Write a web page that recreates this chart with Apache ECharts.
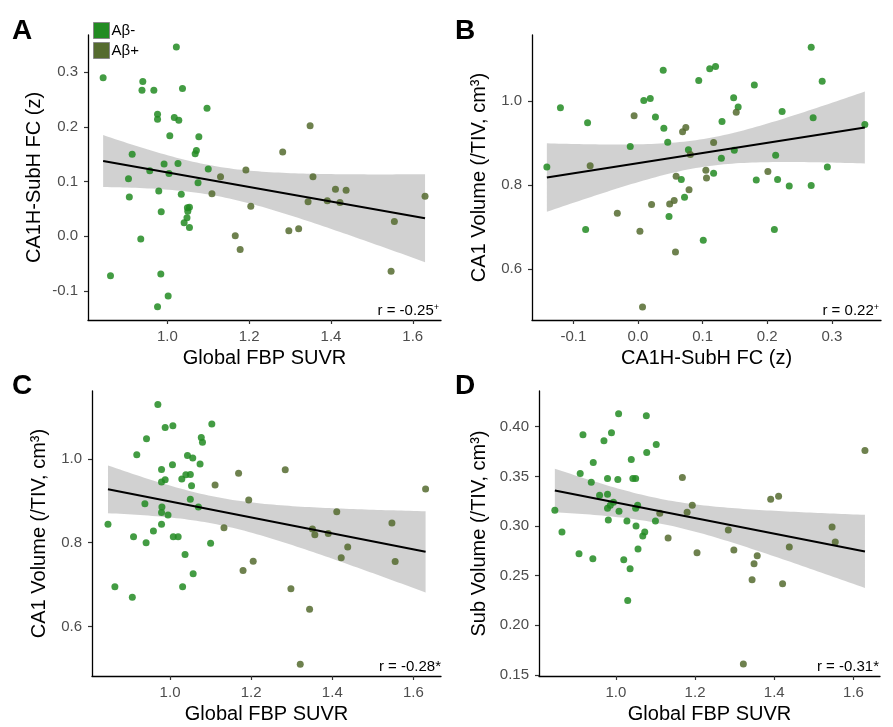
<!DOCTYPE html>
<html><head><meta charset="utf-8">
<script src="https://cdn.jsdelivr.net/npm/echarts@6/dist/echarts.min.js"></script>
<style>html,body{margin:0;padding:0;background:#fff}#c{width:893px;height:727px}</style>
</head><body><div id="c"></div>
<script>
const FONT = "'Liberation Sans', Arial, Helvetica, sans-serif";
const groupNames = ['Aβ-', 'Aβ+'];

// Panel A: x = Global FBP SUVR, y = CA1H-SubH FC (z)
const aNeg = [[1.022,0.346],[0.843,0.290],[0.940,0.283],[0.938,0.267],[0.967,0.267],[1.037,0.270],[0.976,0.223],[0.976,0.214],[1.017,0.217],[1.028,0.212],[1.097,0.234],[1.006,0.184],[1.077,0.182],[1.071,0.157],[1.068,0.151],[0.914,0.150],[0.992,0.132],[1.026,0.133],[0.957,0.120],[1.004,0.115],[1.100,0.123],[0.905,0.105],[1.075,0.098],[0.907,0.072],[0.979,0.083],[1.034,0.077],[1.049,0.052],[1.054,0.053],[1.050,0.046],[0.985,0.045],[1.048,0.034],[1.041,0.025],[1.054,0.016],[0.935,-0.005],[0.861,-0.072],[0.984,-0.069],[1.002,-0.109],[0.976,-0.129]];
const aPos = [[1.349,0.202],[1.282,0.154],[1.192,0.121],[1.130,0.109],[1.356,0.109],[1.109,0.078],[1.204,0.055],[1.411,0.086],[1.437,0.084],[1.344,0.063],[1.391,0.065],[1.422,0.062],[1.630,0.073],[1.555,0.027],[1.297,0.010],[1.321,0.014],[1.166,0.001],[1.178,-0.024],[1.547,-0.064]];

// Panel B: x = CA1H-SubH FC (z), y = CA1 Volume
const bNeg = [[0.268,1.128],[0.285,1.047],[0.271,0.960],[0.351,0.944],[0.293,0.843],[0.268,0.799],[0.039,1.073],[0.094,1.049],[0.111,1.077],[0.120,1.082],[0.180,1.038],[0.009,1.001],[0.019,1.006],[-0.120,0.984],[-0.078,0.948],[0.027,0.962],[0.040,0.935],[0.046,0.902],[-0.012,0.892],[0.148,1.008],[0.155,0.986],[0.130,0.951],[0.223,0.975],[0.149,0.883],[0.129,0.864],[0.078,0.884],[0.213,0.871],[-0.141,0.843],[0.067,0.813],[0.117,0.828],[0.183,0.812],[0.216,0.813],[0.234,0.798],[0.072,0.771],[0.048,0.725],[-0.081,0.694],[0.211,0.694],[0.101,0.669]];
const bPos = [[-0.006,0.965],[0.152,0.973],[0.069,0.927],[0.074,0.937],[0.117,0.901],[0.081,0.873],[-0.074,0.846],[0.059,0.821],[0.105,0.835],[0.106,0.817],[0.201,0.832],[0.079,0.789],[0.021,0.754],[0.049,0.755],[0.056,0.763],[-0.032,0.733],[0.003,0.690],[0.058,0.641],[0.007,0.510]];

// Panel C: x = Global FBP SUVR, y = CA1 Volume
const cNeg = [[0.970,1.130],[0.988,1.075],[1.007,1.079],[1.103,1.083],[0.942,1.048],[1.077,1.051],[1.080,1.040],[0.918,1.010],[1.043,1.008],[1.056,1.002],[1.006,0.986],[1.074,0.988],[0.979,0.975],[1.029,0.952],[1.039,0.962],[1.050,0.963],[0.988,0.950],[0.979,0.945],[1.053,0.936],[1.050,0.904],[0.938,0.893],[1.070,0.885],[0.980,0.885],[0.979,0.872],[0.995,0.866],[0.847,0.844],[0.979,0.844],[0.959,0.828],[0.910,0.814],[0.941,0.800],[1.008,0.814],[1.020,0.814],[1.100,0.799],[1.037,0.772],[1.057,0.726],[0.864,0.695],[1.031,0.695],[0.907,0.670]];
const cPos = [[1.169,0.966],[1.284,0.974],[1.111,0.938],[1.194,0.902],[1.630,0.928],[1.411,0.874],[1.133,0.836],[1.351,0.833],[1.357,0.819],[1.390,0.822],[1.547,0.847],[1.438,0.790],[1.422,0.764],[1.555,0.755],[1.205,0.756],[1.180,0.734],[1.298,0.690],[1.344,0.641],[1.321,0.510]];

// Panel D: x = Global FBP SUVR, y = Sub Volume
const dNeg = [[1.007,0.413],[1.077,0.411],[0.917,0.392],[0.989,0.394],[0.970,0.386],[1.102,0.382],[1.078,0.374],[0.943,0.364],[1.039,0.367],[0.910,0.353],[0.979,0.348],[1.005,0.347],[1.043,0.348],[1.050,0.348],[0.938,0.344],[0.959,0.331],[0.979,0.332],[0.979,0.318],[0.846,0.316],[0.994,0.324],[0.986,0.321],[1.055,0.321],[1.050,0.318],[1.008,0.315],[0.981,0.306],[1.028,0.305],[1.100,0.305],[1.051,0.300],[0.864,0.294],[1.073,0.294],[1.068,0.290],[1.056,0.277],[0.907,0.272],[0.942,0.267],[1.020,0.266],[1.036,0.257],[1.030,0.225]];
const dPos = [[1.629,0.376],[1.168,0.349],[1.391,0.327],[1.411,0.330],[1.193,0.321],[1.180,0.314],[1.111,0.313],[1.132,0.288],[1.284,0.296],[1.546,0.299],[1.554,0.284],[1.205,0.273],[1.298,0.276],[1.438,0.279],[1.357,0.270],[1.349,0.262],[1.344,0.246],[1.421,0.242],[1.322,0.161]];

// Tick values
const suvrTicks = [1.0, 1.2, 1.4, 1.6];
const fcTicksY = [-0.1, 0.0, 0.1, 0.2, 0.3];
const fcTicksX = [-0.1, 0.0, 0.1, 0.2, 0.3];
const ca1Ticks = [0.6, 0.8, 1.0];
const subTicks = [0.15, 0.20, 0.25, 0.30, 0.35, 0.40];

const panelLetters = ['A', 'B', 'C', 'D'];
const rLabels = ['r = -0.25', 'r = 0.22', 'r = -0.28*', 'r = -0.31*'];
const rSup = ['+', '+', '', ''];
const xTitles = ['Global FBP SUVR', 'CA1H-SubH FC (z)', 'Global FBP SUVR', 'Global FBP SUVR'];
const yTitles = ['CA1H-SubH FC (z)', 'CA1 Volume (/TIV, cm³)', 'CA1 Volume (/TIV, cm³)', 'Sub Volume (/TIV, cm³)'];

const panels = [
  {neg:aNeg, pos:aPos, grid:{left:88, top:35, width:353, height:285}, x:[0.806,1.669], y:[-0.153,0.368], xt:suvrTicks, xd:1, yt:fcTicksY, yd:1, yGap:44, letter:[12,17], r:[439,319]},
  {neg:bNeg, pos:bPos, grid:{left:532, top:35, width:349, height:285}, x:[-0.164,0.376], y:[0.479,1.157], xt:fcTicksX, xd:1, yt:ca1Ticks, yd:1, yGap:43, letter:[455,17], r:[879,319]},
  {neg:cNeg, pos:cPos, grid:{left:92, top:391, width:349, height:285}, x:[0.8076,1.668], y:[0.482,1.162], xt:suvrTicks, xd:1, yt:ca1Ticks, yd:1, yGap:43, letter:[12,372], r:[441,675]},
  {neg:dNeg, pos:dPos, grid:{left:539, top:391, width:341, height:285}, x:[0.806,1.667], y:[0.149,0.436], xt:suvrTicks, xd:1, yt:subTicks, yd:2, yGap:50, letter:[455,372], r:[879,675]}
];

const NEG_COLOR = '#228B22', POS_COLOR = '#556B2F';

function fit(pts) {
  const n = pts.length;
  let mx = 0, my = 0;
  pts.forEach(p => { mx += p[0]; my += p[1]; });
  mx /= n; my /= n;
  let sxx = 0, sxy = 0;
  pts.forEach(p => { sxx += (p[0]-mx)**2; sxy += (p[0]-mx)*(p[1]-my); });
  const b = sxy / sxx, a = my - b * mx;
  let sse = 0;
  pts.forEach(p => { sse += (p[1] - a - b*p[0])**2; });
  const s = Math.sqrt(sse / (n - 2));
  const t = 2.004;
  const xs = pts.map(p => p[0]);
  const xmin = Math.min(...xs), xmax = Math.max(...xs);
  const upper = [], lower = [];
  const N = 80;
  for (let i = 0; i < N; i++) {
    const x = xmin + (xmax - xmin) * i / (N - 1);
    const yh = a + b * x;
    const se = s * Math.sqrt(1/n + (x-mx)**2 / sxx);
    upper.push([x, yh + t*se]);
    lower.push([x, yh - t*se]);
  }
  return {line: [[xmin, a + b*xmin], [xmax, a + b*xmax]], upper, lower};
}

const grids = [], xAxes = [], yAxes = [], series = [], graphics = [];

function axisBase(ticks, dec) {
  return {
    type: 'value',
    axisLine: {show: true, onZero: false, lineStyle: {color: '#000', width: 1.3}},
    axisTick: {show: true, customValues: ticks, length: 4, lineStyle: {color: '#333', width: 1.2}},
    axisLabel: {customValues: ticks, formatter: v => Number(v).toFixed(dec), color: '#4d4d4d', fontSize: 15, fontFamily: FONT},
    splitLine: {show: false},
    nameLocation: 'middle',
    nameTextStyle: {fontSize: 20, color: '#000', fontFamily: FONT}
  };
}

panels.forEach((p, i) => {
  grids.push(Object.assign({containLabel: false}, p.grid));
  const xa = axisBase(p.xt, p.xd);
  xa.gridIndex = i; xa.min = p.x[0]; xa.max = p.x[1];
  xa.name = xTitles[i]; xa.nameGap = 28;
  xa.axisLabel.margin = 9;
  xAxes.push(xa);
  const ya = axisBase(p.yt, p.yd);
  ya.gridIndex = i; ya.min = p.y[0]; ya.max = p.y[1];
  ya.name = yTitles[i]; ya.nameGap = p.yGap; ya.nameRotate = 90;
  ya.axisLabel.margin = 10;
  yAxes.push(ya);

  const all = p.neg.concat(p.pos);
  const f = fit(all);
  series.push({
    type: 'custom', xAxisIndex: i, yAxisIndex: i, silent: true, z: 1,
    data: [f.line[0]],
    renderItem: (params, api) => {
      const pts = f.upper.map(q => api.coord(q)).concat(f.lower.slice().reverse().map(q => api.coord(q)));
      return {type: 'polygon', shape: {points: pts}, style: {fill: 'rgba(153,153,153,0.45)'}};
    }
  });
  series.push({
    name: groupNames[0], type: 'scatter', xAxisIndex: i, yAxisIndex: i, z: 2,
    symbolSize: 7, data: p.neg, itemStyle: {color: NEG_COLOR, opacity: 0.85}
  });
  series.push({
    name: groupNames[1], type: 'scatter', xAxisIndex: i, yAxisIndex: i, z: 2,
    symbolSize: 7, data: p.pos, itemStyle: {color: POS_COLOR, opacity: 0.85}
  });
  series.push({
    type: 'line', xAxisIndex: i, yAxisIndex: i, z: 3, silent: true,
    data: f.line, showSymbol: false, symbol: 'none',
    lineStyle: {color: '#000', width: 2}
  });

  graphics.push({
    type: 'text', x: p.letter[0], y: p.letter[1],
    style: {text: panelLetters[i], font: "bold 28px 'Liberation Sans', Arial, sans-serif", fill: '#000'}
  });
  graphics.push({
    type: 'text', x: p.r[0], y: p.r[1], z: 10,
    style: {
      text: '{n|' + rLabels[i] + '}' + (rSup[i] ? '{s|' + rSup[i] + '}' : ''),
      align: 'right', verticalAlign: 'bottom',
      rich: {
        n: {fontSize: 15, fontFamily: FONT, fill: '#000', lineHeight: 16},
        s: {fontSize: 9, fontFamily: FONT, fill: '#000', verticalAlign: 'top', lineHeight: 16}
      }
    }
  });
});

const chart = echarts.init(document.getElementById('c'), null, {renderer: 'canvas'});
chart.setOption({
  animation: false,
  backgroundColor: '#fff',
  grid: grids, xAxis: xAxes, yAxis: yAxes, series: series,
  legend: {
    orient: 'vertical', left: 93, top: 22, itemWidth: 16, itemHeight: 16, itemGap: 3,
    icon: 'rect', padding: 0, selectedMode: false,
    textStyle: {fontSize: 15, color: '#000', fontFamily: FONT, padding: [0, 0, 0, -3]},
    data: [
      {name: groupNames[0], itemStyle: {color: NEG_COLOR, opacity: 1, borderColor: '#888', borderWidth: 1}},
      {name: groupNames[1], itemStyle: {color: POS_COLOR, opacity: 1, borderColor: '#888', borderWidth: 1}}
    ]
  },
  graphic: graphics
});
</script></body></html>
